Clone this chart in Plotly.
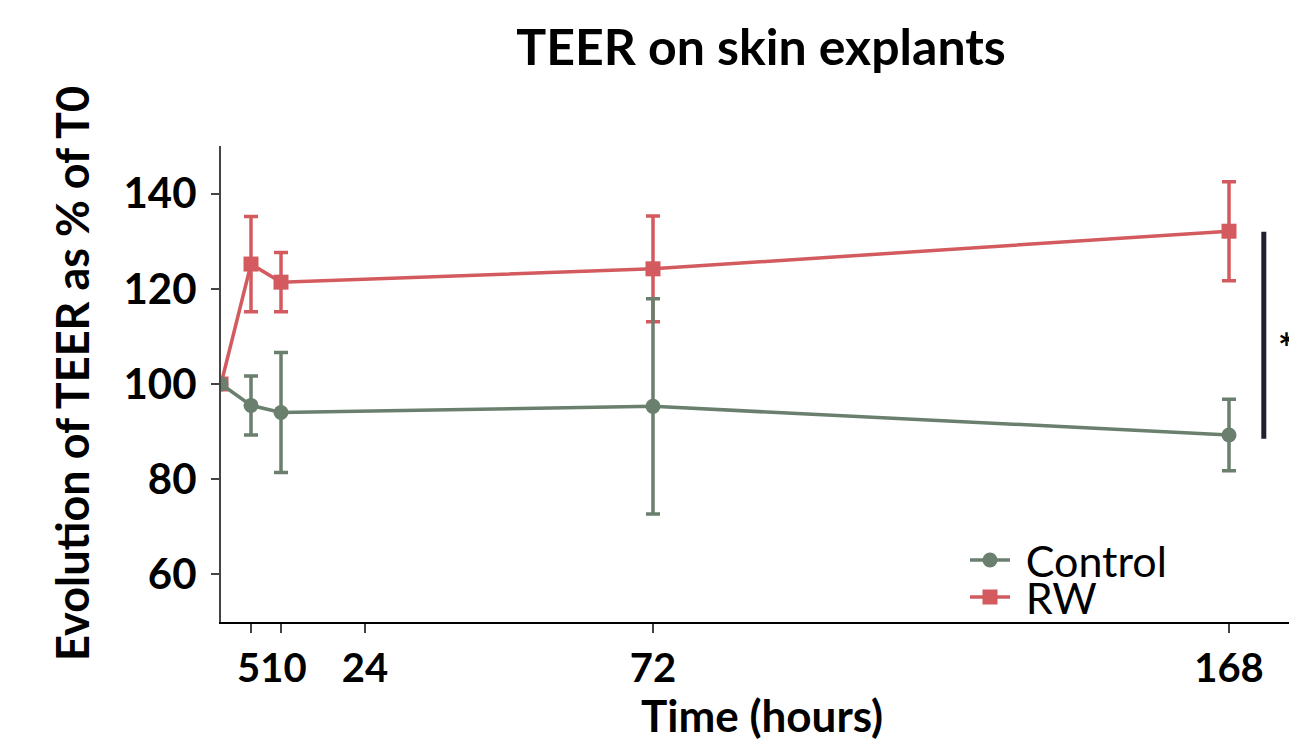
import plotly.graph_objects as go

time_h = [0, 5, 10, 72, 168]
control_mean = [100, 95.5, 94.0, 95.3, 89.3]
control_err = [0, 6.2, 12.6, 22.6, 7.5]
rw_mean = [100, 125.2, 121.4, 124.2, 132.1]
rw_err = [0, 10.0, 6.2, 11.1, 10.4]
x_ticks = [5, 10, 24, 72, 168]
x_tick_text = ["5\u2009", "\u200910", "24", "72", "168"]
y_ticks = [60, 80, 100, 120, 140]

GREEN = "#6a7f6e"
RED = "#d35a5e"
FONT = "Lato"

L, T, W, H = 221, 146, 1068, 476  # plot area in pixels

fig = go.Figure()
fig.add_trace(go.Scatter(
    x=time_h, y=rw_mean, name="\u2009\u2009RW", mode="lines+markers",
    line=dict(color=RED, width=3.5),
    marker=dict(symbol="square", size=15, color=RED),
    error_y=dict(type="data", array=rw_err, color=RED, thickness=3.5, width=7),
    legend="legend2",
))
fig.add_trace(go.Scatter(
    x=time_h, y=control_mean, name="\u2009\u2009Control", mode="lines+markers",
    line=dict(color=GREEN, width=3.5),
    marker=dict(symbol="circle", size=15, color=GREEN),
    error_y=dict(type="data", array=control_err, color=GREEN, thickness=3.5, width=7),
    legend="legend",
))

# significance bracket
fig.add_shape(type="line", x0=173.8, x1=173.8, y0=88.5, y1=132.0,
              xref="x", yref="y", line=dict(color="#1e2130", width=5))
fig.add_annotation(x=177.6, y=107.5, xref="x", yref="y", text="*",
                   showarrow=False, font=dict(family=FONT, size=40, color="black", weight="bold"))

# axis titles
fig.add_annotation(x=(762 - L) / W, y=(T + H - 715) / H, xref="paper", yref="paper",
                   text="Time (hours)", showarrow=False, yanchor="middle",
                   font=dict(family=FONT, size=44, color="black", weight="bold"))
fig.add_annotation(x=(43 - L) / W, y=(T + H - 374) / H, xref="paper", yref="paper",
                   text="Evolution of TEER as % of T0", showarrow=False, textangle=-90,
                   font=dict(family=FONT, size=45, color="black", weight="bold"))

leg_font = dict(family=FONT, size=43, color="black")
fig.update_layout(
    width=1289, height=743,
    margin=dict(l=L, r=0, t=T, b=743 - T - H),
    plot_bgcolor="white", paper_bgcolor="white",
    title=dict(text="TEER on skin explants", x=761 / 1289, xref="container",
               y=1 - 47 / 743, yref="container", xanchor="center", yanchor="middle",
               font=dict(family=FONT, size=50, color="black", weight="bold")),
    showlegend=True,
    legend=dict(x=(965 - L) / W, y=(T + H - 560) / H, xanchor="left", yanchor="middle",
                bgcolor="rgba(0,0,0,0)", font=leg_font, itemwidth=40),
    legend2=dict(x=(965 - L) / W, y=(T + H - 597) / H, xanchor="left", yanchor="middle",
                 bgcolor="rgba(0,0,0,0)", font=leg_font, itemwidth=40),
)
fig.update_xaxes(range=[0, 178], tickvals=x_ticks, ticktext=x_tick_text, tickangle=0,
                 showgrid=False, zeroline=False, showline=True, linecolor="black", linewidth=2,
                 ticks="outside", ticklen=9, tickwidth=2, tickcolor="#444",
                 tickfont=dict(family=FONT, size=40, color="black", weight="bold"),
                 ticklabelstandoff=1)
fig.update_yaxes(range=[50, 150], tickvals=y_ticks, ticktext=[str(v) for v in y_ticks],
                 showgrid=False, zeroline=False, showline=True, linecolor="#444", linewidth=2,
                 ticks="outside", ticklen=8, tickwidth=2, tickcolor="#444",
                 tickfont=dict(family=FONT, size=42, color="black", weight="bold"),
                 ticklabelstandoff=6)

fig.write_html("out.html", config={"displayModeBar": False},
               post_script="document.body.style.margin='0px';document.body.style.overflow='hidden';")
